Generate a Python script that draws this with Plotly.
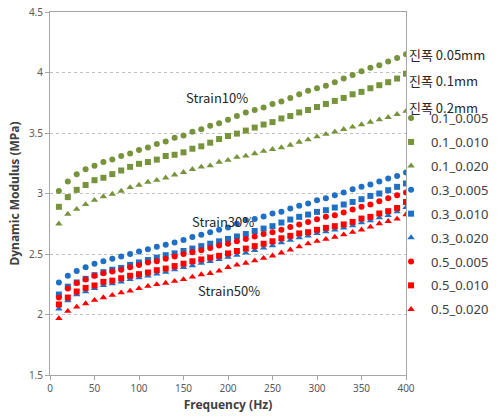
import plotly.graph_objects as go

# Frequency sweep (Hz)
freq = list(range(10, 401, 10))

# Dynamic modulus (MPa) by strain_amplitude
g_01_0005 = [3.02, 3.10, 3.16, 3.20, 3.23, 3.26, 3.28, 3.31, 3.33, 3.36,
             3.38, 3.41, 3.43, 3.46, 3.48, 3.51, 3.53, 3.56, 3.58, 3.61,
             3.64, 3.67, 3.69, 3.71, 3.74, 3.76, 3.79, 3.82, 3.85, 3.87,
             3.89, 3.92, 3.95, 3.98, 4.01, 4.04, 4.06, 4.09, 4.12, 4.15]
g_01_0010 = [2.89, 2.97, 3.03, 3.07, 3.11, 3.13, 3.16, 3.19, 3.22, 3.245,
             3.26, 3.28, 3.31, 3.32, 3.34, 3.37, 3.39, 3.42, 3.45, 3.475,
             3.495, 3.52, 3.545, 3.57, 3.59, 3.62, 3.64, 3.67, 3.69, 3.715,
             3.74, 3.765, 3.79, 3.82, 3.84, 3.87, 3.895, 3.92, 3.95, 3.99]
g_01_0020 = [2.75, 2.83, 2.87, 2.91, 2.945, 2.975, 2.995, 3.02, 3.05, 3.07,
             3.095, 3.11, 3.13, 3.155, 3.175, 3.20, 3.22, 3.23, 3.26, 3.275,
             3.30, 3.31, 3.33, 3.35, 3.365, 3.38, 3.40, 3.425, 3.445, 3.47,
             3.49, 3.51, 3.53, 3.55, 3.57, 3.59, 3.61, 3.63, 3.655, 3.68]
g_03_0005 = [2.265, 2.32, 2.36, 2.39, 2.42, 2.44, 2.46, 2.48, 2.50, 2.52,
             2.54, 2.56, 2.577, 2.595, 2.615, 2.64, 2.66, 2.68, 2.70, 2.72,
             2.75, 2.78, 2.79, 2.81, 2.835, 2.85, 2.876, 2.898, 2.917, 2.945,
             2.96, 2.986, 3.008, 3.036, 3.055, 3.074, 3.10, 3.124, 3.145, 3.174]
g_03_0010 = [2.165, 2.23, 2.265, 2.295, 2.325, 2.35, 2.37, 2.385, 2.41, 2.43,
             2.45, 2.47, 2.49, 2.505, 2.525, 2.545, 2.565, 2.585, 2.605, 2.625,
             2.645, 2.665, 2.69, 2.71, 2.73, 2.76, 2.785, 2.807, 2.826, 2.848,
             2.862, 2.884, 2.909, 2.93, 2.953, 2.98, 3.00, 3.027, 3.055, 3.083]
g_03_0020 = [2.047, 2.115, 2.165, 2.19, 2.215, 2.24, 2.255, 2.27, 2.29, 2.305,
             2.32, 2.335, 2.35, 2.37, 2.39, 2.405, 2.425, 2.44, 2.455, 2.475,
             2.49, 2.51, 2.53, 2.55, 2.57, 2.595, 2.615, 2.635, 2.65, 2.67,
             2.685, 2.70, 2.715, 2.735, 2.76, 2.775, 2.80, 2.82, 2.85, 2.885]
g_05_0005 = [2.14, 2.215, 2.26, 2.29, 2.32, 2.34, 2.355, 2.37, 2.39, 2.41,
             2.43, 2.44, 2.46, 2.48, 2.50, 2.515, 2.53, 2.55, 2.57, 2.585,
             2.605, 2.625, 2.645, 2.665, 2.68, 2.70, 2.724, 2.744, 2.765, 2.787,
             2.807, 2.82, 2.843, 2.868, 2.89, 2.909, 2.936, 2.96, 2.986, 3.008]
g_05_0010 = [2.083, 2.14, 2.19, 2.22, 2.24, 2.27, 2.28, 2.30, 2.32, 2.333,
             2.347, 2.366, 2.38, 2.40, 2.42, 2.44, 2.455, 2.47, 2.485, 2.505,
             2.525, 2.545, 2.565, 2.585, 2.605, 2.63, 2.65, 2.67, 2.68, 2.70,
             2.716, 2.73, 2.744, 2.765, 2.793, 2.807, 2.835, 2.854, 2.88, 2.93]
g_05_0020 = [1.967, 2.027, 2.063, 2.09, 2.118, 2.14, 2.16, 2.18, 2.195, 2.215,
             2.234, 2.248, 2.26, 2.275, 2.29, 2.31, 2.33, 2.34, 2.36, 2.39,
             2.41, 2.425, 2.445, 2.465, 2.485, 2.51, 2.535, 2.56, 2.585, 2.606,
             2.622, 2.64, 2.66, 2.68, 2.70, 2.724, 2.752, 2.77, 2.79, 2.826]

names = ["0.1_0.005", "0.1_0.010", "0.1_0.020",
         "0.3_0.005", "0.3_0.010", "0.3_0.020",
         "0.5_0.005", "0.5_0.010", "0.5_0.020"]
values = [g_01_0005, g_01_0010, g_01_0020,
          g_03_0005, g_03_0010, g_03_0020,
          g_05_0005, g_05_0010, g_05_0020]

GREEN, BLUE, RED = "#77933C", "#1F6FC5", "#FF0000"
colors = [GREEN] * 3 + [BLUE] * 3 + [RED] * 3
symbols = ["circle", "square", "triangle-up"] * 3
sizes = [6, 6, 6.5] * 3

fig = go.Figure()
for i, (nm, ys) in enumerate(zip(names, values)):
    fig.add_trace(go.Scatter(
        x=freq, y=ys, mode="markers", name=nm, legendgroup=nm,
        marker=dict(symbol=symbols[i], size=sizes[i], color=colors[i],
                    line=dict(width=0)),
    ))

axis_font = dict(family="Noto Sans", size=10, color="#595959")
title_font = dict(family="Noto Sans", size=12, color="#404040")

fig.update_layout(
    width=497, height=419,
    margin=dict(l=50, r=91, t=12, b=44, autoexpand=False),
    paper_bgcolor="white", plot_bgcolor="white",
    showlegend=True,
    legend=dict(x=0.958, xanchor="left", y=0.749, yanchor="top",
                font=dict(family="Noto Sans", size=13, color="#404040"),
                tracegroupgap=4, itemwidth=30,
                bgcolor="rgba(0,0,0,0)"),
    xaxis=dict(range=[0, 400], dtick=50, tick0=0,
               showline=True, linecolor="#A6A6A6", linewidth=1, mirror=True,
               ticks="outside", ticklen=4, tickcolor="#A6A6A6",
               showgrid=False, zeroline=False, tickfont=axis_font,
               title=dict(text="<b>Frequency (Hz)</b>", font=title_font,
                          standoff=6)),
    yaxis=dict(range=[1.5, 4.5], dtick=0.5, tick0=1.5,
               showline=True, linecolor="#A6A6A6", linewidth=1, mirror=True,
               ticks="outside", ticklen=4, tickcolor="#A6A6A6",
               showgrid=True, gridcolor="#BFBFBF", griddash="dot",
               gridwidth=1, zeroline=False, tickfont=axis_font,
               title=dict(text="<b>Dynamic Modulus (MPa)</b>",
                          font=title_font, standoff=6)),
)

label_font = dict(family="Noto Sans CJK KR", size=13, color="#262626")

# Strain group labels
for text, xv, yv in [("Strain10%", 188, 3.79),
                     ("Strain30%", 194, 2.77),
                     ("Strain50%", 201, 2.20)]:
    fig.add_annotation(x=xv, y=yv, text=text, showarrow=False,
                       xanchor="center", font=label_font)

# Amplitude labels at the end of the 10% strain series
for text, yv, dy in [("진폭 0.05mm", g_01_0005[-1], 0),
                     ("진폭 0.1mm", g_01_0010[-1], -7),
                     ("진폭 0.2mm", g_01_0020[-1], 4)]:
    fig.add_annotation(x=400, y=yv, text=text, showarrow=False,
                       xanchor="left", xshift=1, yshift=dy, font=label_font)

fig.write_html("out.html")
